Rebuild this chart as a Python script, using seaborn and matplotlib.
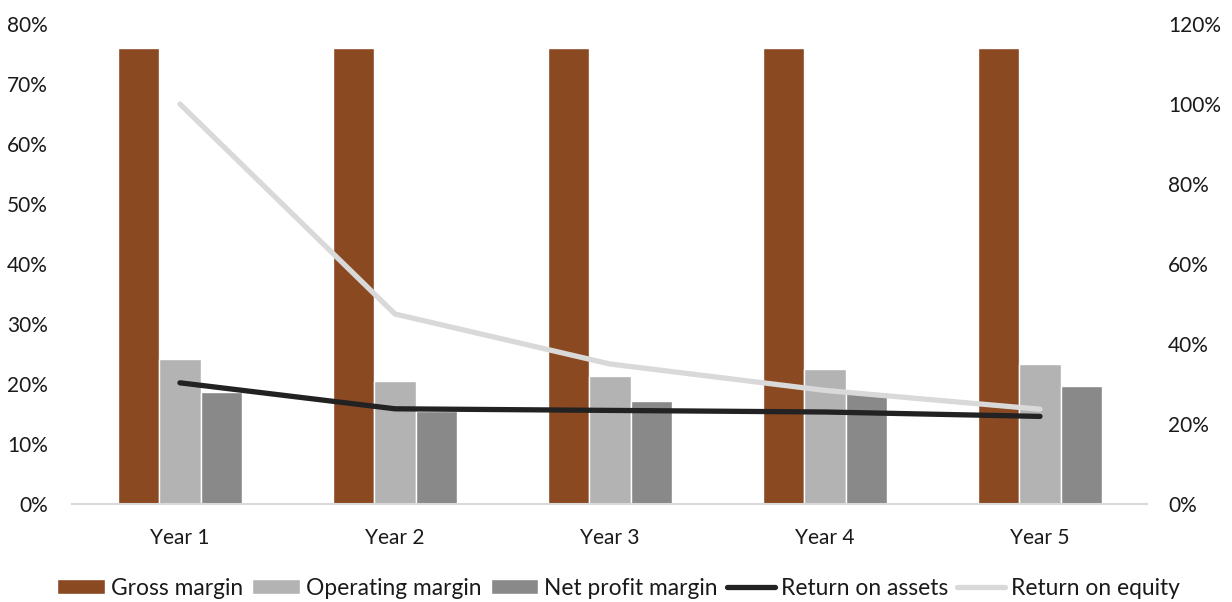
import numpy as np
import pandas as pd
import matplotlib
matplotlib.use("Agg")
import matplotlib.pyplot as plt
import seaborn as sns
from matplotlib.ticker import FuncFormatter

# ---- data ----
years = ["Year 1", "Year 2", "Year 3", "Year 4", "Year 5"]
gross_margin = [76.0, 76.0, 76.0, 76.0, 76.0]
operating_margin = [24.1, 20.5, 21.4, 22.5, 23.4]
net_profit_margin = [18.7, 15.5, 17.2, 18.6, 19.7]
return_on_assets = [30.3, 23.8, 23.4, 23.0, 21.9]
return_on_equity = [100.0, 47.5, 35.0, 28.4, 23.7]

left_ticks = [0, 10, 20, 30, 40, 50, 60, 70, 80]
right_ticks = [0, 20, 40, 60, 80, 100, 120]

bar_series = {
    "Gross margin": gross_margin,
    "Operating margin": operating_margin,
    "Net profit margin": net_profit_margin,
}
line_series = {
    "Return on assets": return_on_assets,
    "Return on equity": return_on_equity,
}

bar_colors = {"Gross margin": "#8B4922", "Operating margin": "#B3B3B3",
              "Net profit margin": "#898989"}
line_colors = {"Return on assets": "#222222", "Return on equity": "#D9D9D9"}

bars_df = pd.DataFrame(
    [(y, k, v) for k, vals in bar_series.items() for y, v in zip(years, vals)],
    columns=["Year", "Metric", "Value"],
)
pos = np.arange(len(years))
lines_df = pd.DataFrame(
    [(p, k, v) for k, vals in line_series.items() for p, v in zip(pos, vals)],
    columns=["Pos", "Metric", "Value"],
)

# ---- style ----
sns.set_theme(style="white")
plt.rcParams["font.family"] = ["Lato", "DejaVu Sans"]
plt.rcParams["text.color"] = "#1a1a1a"

fig = plt.figure(figsize=(12.32, 6.02), dpi=100)
ax = fig.add_axes([0.0588, 0.1628, 0.8726, 0.7973])

sns.barplot(data=bars_df, x="Year", y="Value", hue="Metric", order=years,
            hue_order=list(bar_series), palette=bar_colors, width=0.577,
            gap=0, saturation=1, ax=ax, legend=True)

ax2 = ax.twinx()
sns.lineplot(data=lines_df, x="Pos", y="Value", hue="Metric",
             hue_order=list(line_series), palette=line_colors,
             linewidth=3.8, ax=ax2, legend=True, sort=False)
for ln in ax2.get_lines():
    ln.set_solid_capstyle("round")
    ln.set_solid_joinstyle("round")

# ---- axes ----
ax.set_xlim(-0.5, len(years) - 0.5)
ax2.set_xlim(-0.5, len(years) - 0.5)
ax.set_ylim(0, 80)
ax2.set_ylim(0, 120)
ax.set_yticks(left_ticks)
ax2.set_yticks(right_ticks)
pct = FuncFormatter(lambda v, _: f"{v:.0f}%")
ax.yaxis.set_major_formatter(pct)
ax2.yaxis.set_major_formatter(pct)
ax.set_xticks(pos)
ax.set_xticklabels(years)
ax.set_xlabel("")
ax.set_ylabel("")
ax2.set_xlabel("")
ax2.set_ylabel("")

ax.tick_params(axis="y", length=0, pad=17.5, labelsize=15, labelcolor="#1a1a1a")
ax.tick_params(axis="x", length=0, pad=17, labelsize=15, labelcolor="#1a1a1a")
ax2.tick_params(axis="y", length=0, pad=14.8, labelsize=15, labelcolor="#1a1a1a")
for lab in ax2.get_yticklabels():
    lab.set_horizontalalignment("left")

for a in (ax, ax2):
    for side in ("top", "left", "right", "bottom"):
        a.spines[side].set_visible(False)
ax.spines["bottom"].set_visible(True)
ax.spines["bottom"].set_color("#D9D9D9")
ax.spines["bottom"].set_linewidth(1.5)
ax.grid(False)
ax2.grid(False)

# ---- legend ----
h1, l1 = ax.get_legend_handles_labels()
h2, l2 = ax2.get_legend_handles_labels()
ax.get_legend().remove()
ax2.get_legend().remove()
fig.legend(h1 + h2, l1 + l2, loc="center", bbox_to_anchor=(0.502, 0.023),
           ncol=5, frameon=False, fontsize=16.4, handlelength=2.1,
           handleheight=0.67, handletextpad=0.26, columnspacing=0.4,
           borderaxespad=0, borderpad=0)

fig.savefig("out.png", dpi=100)
